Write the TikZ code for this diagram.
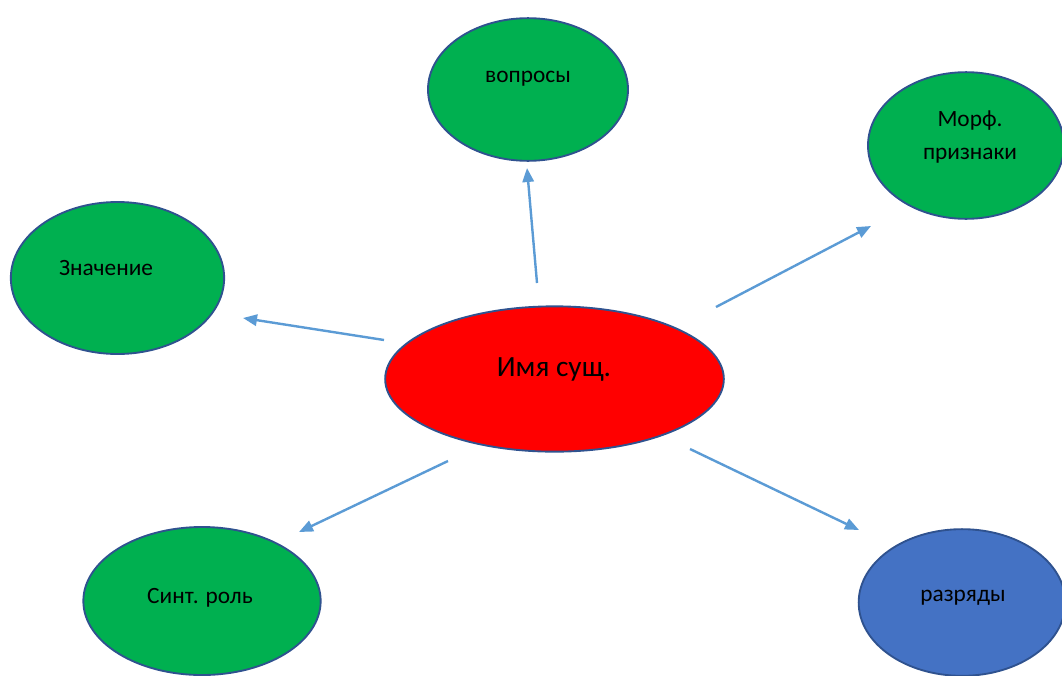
\documentclass[tikz,border=0pt]{standalone}
\usepackage{fontspec}
\setmainfont{Carlito}
\usetikzlibrary{shapes.geometric,arrows.meta}
\definecolor{gr}{HTML}{00B050}
\definecolor{rd}{HTML}{FF0000}
\definecolor{bl}{HTML}{4472C4}
\definecolor{edgec}{HTML}{2F528F}
\definecolor{arr}{HTML}{5B9BD5}
\tikzset{
  oval/.style={ellipse, draw=edgec, line width=1.4pt, inner sep=0pt},
  lbl/.style={font=\fontsize{17.5}{21}\selectfont, align=center, inner sep=0pt},
  conn/.style={draw=arr, line width=1.8pt, -{Triangle[length=10.5pt,width=8.5pt]}}
}
\begin{document}
\begin{tikzpicture}[x=0.75pt,y=-0.75pt]
\useasboundingbox (0,0) rectangle (1062,675);
\clip (0,0) rectangle (1062,675);
% ellipses
\node[oval, fill=rd, minimum width=254pt, minimum height=109pt] (ims) at (554.5,379) {};
\node[oval, fill=gr, minimum width=150pt, minimum height=107pt] (vop) at (528,89.5) {};
\node[oval, fill=gr, minimum width=147pt, minimum height=110pt] (morf) at (966,145.5) {};
\node[oval, fill=gr, minimum width=160pt, minimum height=114pt] (zn) at (117.5,278) {};
\node[oval, fill=gr, minimum width=178pt, minimum height=111pt] (sint) at (202,601) {};
\node[oval, fill=bl, minimum width=155pt, minimum height=110pt] (raz) at (962,602.5) {};
% texts
\node[lbl, font=\fontsize{22}{26}\selectfont] (imst) at (554,369) {Имя сущ.};
\node[lbl] (vopt) at (528,79) {вопросы};
\node[lbl, font=\fontsize{17.5}{25}\selectfont] (morft) at (970,137) {Морф.\\признаки};
\node[lbl] (znt) at (106,268) {Значение};
\node[lbl] (sintt) at (200,598) {Синт. роль};
\node[lbl] (razt) at (963,598) {разряды};
% connector ends
\coordinate (a1s) at (537,283); \coordinate (a1e) at (527,168);
\coordinate (a2s) at (716,307); \coordinate (a2e) at (871,226);
\coordinate (a3s) at (384,340); \coordinate (a3e) at (243,318);
\coordinate (a4s) at (448,461); \coordinate (a4e) at (299,532);
\coordinate (a5s) at (690,449); \coordinate (a5e) at (859,530);
\draw[conn] (a1s) -- (a1e);
\draw[conn] (a2s) -- (a2e);
\draw[conn] (a3s) -- (a3e);
\draw[conn] (a4s) -- (a4e);
\draw[conn] (a5s) -- (a5e);
\end{tikzpicture}
\end{document}
